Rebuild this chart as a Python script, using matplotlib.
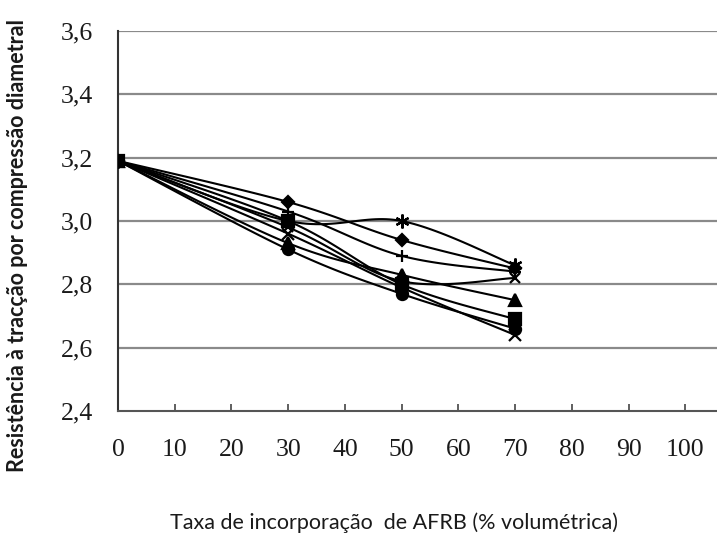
import matplotlib.pyplot as plt
import numpy as np

# taxa de incorporação (%)
x_vals = [0, 30, 50, 70]

# resistência à tracção por compressão diametral (MPa)
serie_losango = [3.19, 3.06, 2.94, 2.85]
serie_quadrado = [3.19, 3.00, 2.80, 2.69]
serie_triangulo = [3.19, 2.93, 2.83, 2.75]
serie_x = [3.19, 2.96, 2.79, 2.64]
serie_estrela = [3.19, 3.00, 3.00, 2.86]
serie_circulo = [3.19, 2.91, 2.77, 2.66]
serie_mais = [3.19, 3.03, 2.89, 2.84]
serie_x2 = [3.19, 2.98, 2.81, 2.82]

x_ticks = [0, 10, 20, 30, 40, 50, 60, 70, 80, 90, 100]
y_ticks = [2.4, 2.6, 2.8, 3.0, 3.2, 3.4, 3.6]


def smooth(xs, ys, n=30):
    """Curva suavizada tipo Excel (Catmull-Rom / Bezier)"""
    p = np.column_stack([xs, ys]).astype(float)
    p = np.vstack([p[0], p, p[-1]])
    out = []
    for i in range(1, len(p) - 2):
        p0, p1, p2, p3 = p[i - 1], p[i], p[i + 1], p[i + 2]
        c1 = p1 + (p2 - p0) / 6
        c2 = p2 - (p3 - p1) / 6
        t = np.linspace(0, 1, n)[:, None]
        seg = ((1 - t) ** 3 * p1 + 3 * (1 - t) ** 2 * t * c1
               + 3 * (1 - t) * t ** 2 * c2 + t ** 3 * p2)
        out.append(seg)
    c = np.vstack(out)
    return c[:, 0], c[:, 1]


series = [
    (serie_x2, 'x', 7),
    (serie_x, 'x', 8),
    (serie_circulo, 'o', 8),
    (serie_triangulo, '^', 9),
    (serie_mais, '+', 8),
    (serie_estrela, (6, 2, 0), 10),
    (serie_losango, 'D', 6),
    (serie_quadrado, 's', 8),
]

fig = plt.figure(figsize=(7.17, 5.36), dpi=100)
ax = fig.add_axes([118 / 717, 1 - 411 / 536, 1 - 118 / 717, (411 - 31) / 536])

for ys, mk, ms in series:
    sx, sy = smooth(x_vals, ys)
    ax.plot(sx, sy, color='black', linewidth=1.5, zorder=3)
    ax.plot(x_vals, ys, linestyle='none', marker=mk, markersize=ms,
            color='black', markeredgewidth=1.6, zorder=4)

ax.set_xlim(0, 105.6)
ax.set_ylim(2.4, 3.6)
ax.set_xticks(x_ticks)
ax.set_yticks(y_ticks)
ax.set_xticklabels([str(v) for v in x_ticks])
ax.set_yticklabels([f'{v:.1f}'.replace('.', ',') for v in y_ticks])

for v in y_ticks[1:]:
    ax.axhline(v, color='#8a8a8a', linewidth=1.6, zorder=1)

ax.spines['top'].set_visible(False)
ax.spines['right'].set_visible(False)
ax.spines['left'].set_color('#333333')
ax.spines['bottom'].set_color('#555555')
ax.spines['left'].set_linewidth(1.5)
ax.spines['bottom'].set_linewidth(1.5)

ax.tick_params(axis='x', direction='in', length=5, width=1.2, pad=20,
               color='#444444')
ax.tick_params(axis='y', length=0, pad=18)
for lab in ax.get_xticklabels() + ax.get_yticklabels():
    lab.set_family('Liberation Serif')
    lab.set_fontsize(18.5)
    lab.set_color('#1a1a1a')

fig.text(394 / 717, 1 - 523 / 536, 'Taxa de incorporação  de AFRB (% volumétrica)',
         ha='center', va='center', fontsize=15.5, color='#1a1a1a', family='Lato')
fig.text(18 / 717, 1 - 246 / 536, 'Resistência à tracção por compressão diametral',
         ha='center', va='center', rotation=90, fontsize=15.5, fontweight='bold',
         color='#1a1a1a', family='Lato')

fig.savefig('out.png', dpi=100)
